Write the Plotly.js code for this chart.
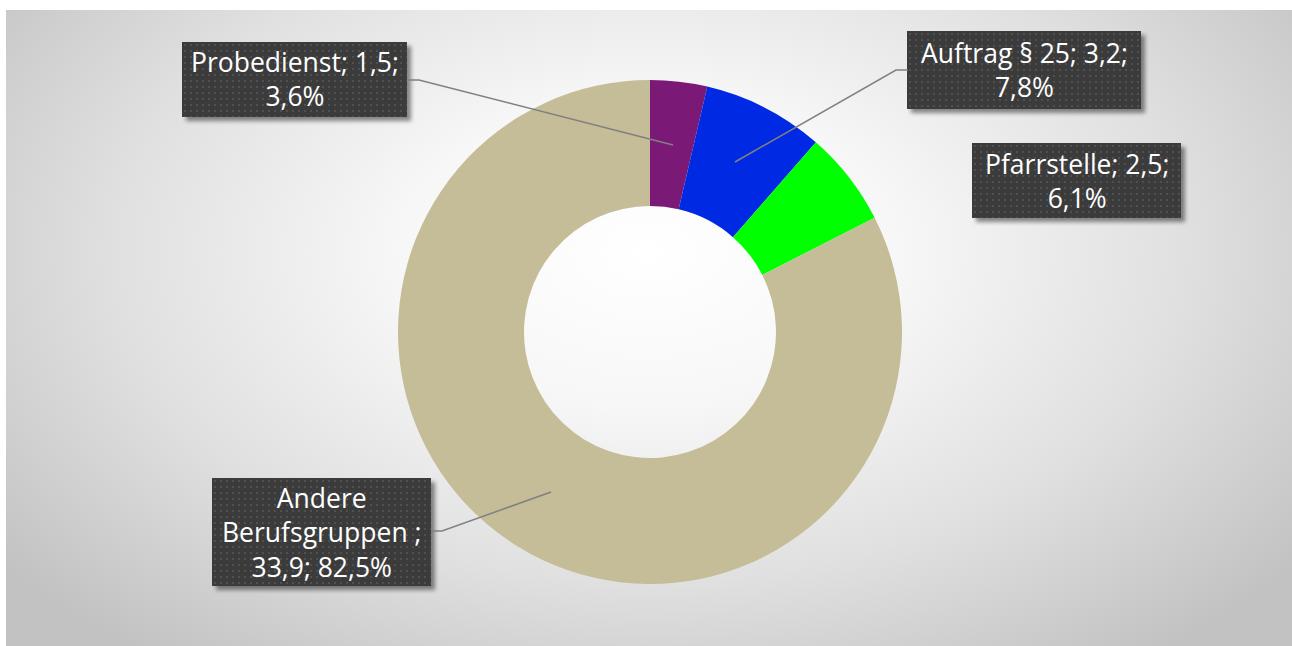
<!DOCTYPE html>
<html>
<head>
<meta charset="utf-8">
<script src="https://cdn.plot.ly/plotly-3.0.1.min.js"></script>
<style>
  html, body { margin: 0; padding: 0; background: #ffffff; }
  #bg {
    position: absolute; left: 6px; top: 10px; width: 1286px; height: 636px;
    background: radial-gradient(ellipse 64% 80% at 50% 38%, #ffffff 0%, #f7f7f7 30%, #e0e0e0 65%, #c2c2c2 100%);
  }
  #chart { position: absolute; left: 0; top: 0; width: 1292px; height: 646px; }
</style>
</head>
<body>
<div id="bg"></div>
<div id="chart"></div>
<script>
// ---- data ----
const categories = ["Probedienst", "Auftrag § 25", "Pfarrstelle", "Andere Berufsgruppen "];
const values = [1.5, 3.2, 2.5, 33.9];
const colors = ["#7b1a76", "#0029e3", "#00ff00", "#c5bd97"];
// label text layout (where the line breaks fall)
const labelHeads = ["Probedienst", "Auftrag § 25", "Pfarrstelle", "Andere<br>Berufsgruppen "];
const breakBeforePct = [true, true, true, false];

// ---- helpers ----
const W = 1292, H = 646;
const px = x => x / W;
const py = y => 1 - y / H;
const total = values.reduce((a, b) => a + b, 0);
const fmt = v => v.toFixed(1).replace(".", ",");

const labelTexts = values.map((v, i) => {
  const pct = fmt(v / total * 100) + "%";
  if (breakBeforePct[i]) return labelHeads[i] + "; " + fmt(v) + ";<br>" + pct;
  return labelHeads[i] + ";<br>" + fmt(v) + "; " + pct;
});

// box geometry (pixels): left, top, width, height
const boxes = [
  [182, 42, 225, 75],
  [907, 31, 234, 78],
  [972, 143, 209, 75],
  [212, 478, 219, 108]
];

function boxSvg(w, h) {
  const s = `<svg xmlns="http://www.w3.org/2000/svg" width="${w + 10}" height="${h + 10}" viewBox="0 0 ${w + 10} ${h + 10}">
<defs>
<filter id="f" x="-20%" y="-20%" width="140%" height="140%"><feGaussianBlur stdDeviation="2"/></filter>
<pattern id="p" width="6" height="6" patternUnits="userSpaceOnUse"><rect x="2" y="2" width="2" height="2" fill="#505050"/></pattern>
</defs>
<rect x="4" y="4" width="${w}" height="${h}" fill="rgba(0,0,0,0.45)" filter="url(#f)"/>
<rect x="0" y="0" width="${w}" height="${h}" fill="#3b3b3b"/>
<rect x="0" y="0" width="${w}" height="${h}" fill="url(#p)"/>
</svg>`;
  return "data:image/svg+xml;charset=utf-8," + encodeURIComponent(s);
}

const images = boxes.map(([l, t, w, h]) => ({
  source: boxSvg(w, h),
  xref: "paper", yref: "paper",
  x: px(l), y: py(t),
  sizex: (w + 10) / W, sizey: (h + 10) / H,
  xanchor: "left", yanchor: "top",
  sizing: "stretch", layer: "above"
}));

const annotations = boxes.map(([l, t, w, h], i) => ({
  xref: "paper", yref: "paper",
  x: px(l + w / 2), y: py(t + h / 2),
  xanchor: "center", yanchor: "middle",
  text: labelTexts[i],
  showarrow: false,
  align: "center",
  font: { family: "Open Sans, Noto Sans, sans-serif", size: 26.5, color: "#ffffff" },
  bgcolor: "rgba(0,0,0,0)",
  borderpad: 0
}));

// leader lines (pixel paths)
const leaderPaths = [
  [[408, 80], [419, 80], [673, 145]],
  [[735, 162], [896, 70], [908, 70]],
  [[551, 492], [442, 531], [431, 531]]
];
const shapes = leaderPaths.map(pts => ({
  type: "path", xref: "paper", yref: "paper", layer: "above",
  path: pts.map((p, k) => (k ? "L" : "M") + px(p[0]) + "," + py(p[1])).join(" "),
  line: { color: "#808080", width: 1.5 }
}));

const trace = {
  type: "pie",
  labels: categories,
  values: values,
  hole: 0.5,
  sort: false,
  direction: "clockwise",
  rotation: 0,
  textinfo: "none",
  hoverinfo: "none",
  marker: { colors: colors, line: { width: 0 } },
  domain: { x: [px(398), px(902)], y: [py(584), py(80)] },
  showlegend: false
};

const layout = {
  width: W, height: H,
  margin: { l: 0, r: 0, t: 0, b: 0 },
  paper_bgcolor: "rgba(0,0,0,0)",
  plot_bgcolor: "rgba(0,0,0,0)",
  showlegend: false,
  images: images,
  shapes: shapes,
  annotations: annotations
};

Plotly.newPlot("chart", [trace], layout, { displayModeBar: false, staticPlot: true });
</script>
</body>
</html>
